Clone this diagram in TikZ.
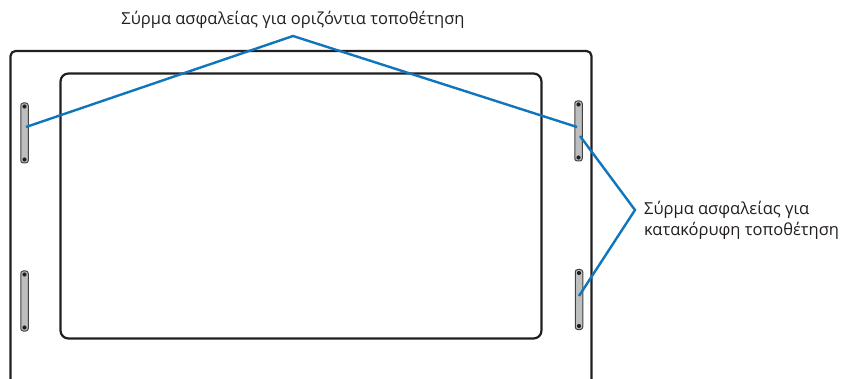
\documentclass[tikz,border=0pt]{standalone}
\usepackage{fontspec}
\setmainfont{Open Sans}
\definecolor{wire}{HTML}{0F75BC}
\definecolor{ink}{HTML}{231F20}
\definecolor{plate}{HTML}{BCBEC0}
\tikzset{
  x=1pt,y=-1pt,
  frameline/.style={draw=ink,line width=2.2pt,rounded corners=5pt},
  panelline/.style={draw=ink,line width=2.2pt,rounded corners=8pt},
  plateshape/.style={draw=ink!85,fill=plate,line width=1pt,rounded corners=2.5pt,minimum width=7.5pt,minimum height=60pt,inner sep=0pt,outer sep=0pt,anchor=center},
  screw/.style={circle,fill=ink,minimum size=4.2pt,inner sep=0pt},
  wireline/.style={draw=wire,line width=2.4pt,line join=miter},
  lbl/.style={text=ink,font=\fontsize{16.5}{21}\selectfont,inner sep=0pt}
}
\newcommand{\mountplate}[3]{%
  \node[plateshape] (#1) at (#2,#3) {};
  \node[screw] (#1t) at (#2,#3-26.5) {};
  \node[screw] (#1b) at (#2,#3+26.5) {};
}
\begin{document}
\begin{tikzpicture}
\useasboundingbox (0,0) rectangle (843,379);
\fill[white] (0,0) rectangle (843,379);
\draw[frameline] (10.5,380) -- (10.5,51) -- (591.5,51) -- (591.5,380);
\node[panelline,minimum width=481pt,minimum height=265pt,inner sep=0pt,outer sep=0pt] (panel) at (301,206) {};
\mountplate{lt}{24.5}{133}
\mountplate{rt}{578.5}{131}
\mountplate{lb}{24.5}{301}
\mountplate{rb}{579}{299.5}
\coordinate (apex) at (293,36);
\coordinate (side) at (635,210);
\coordinate (wlt) at (26,127);
\coordinate (wrt) at (577,127);
\coordinate (wrt2) at (580,136);
\coordinate (wrb) at (579,296);
\draw[wireline] (wlt) -- (apex) -- (wrt);
\draw[wireline] (wrt2) -- (side) -- (wrb);
\node[lbl,anchor=base] (ttop) at (293,25) {Σύρμα ασφαλείας για οριζόντια τοποθέτηση};
\node[lbl,anchor=base west,align=left] (tside) at (644,236) {Σύρμα ασφαλείας για\\κατακόρυφη τοποθέτηση};
\end{tikzpicture}
\end{document}
